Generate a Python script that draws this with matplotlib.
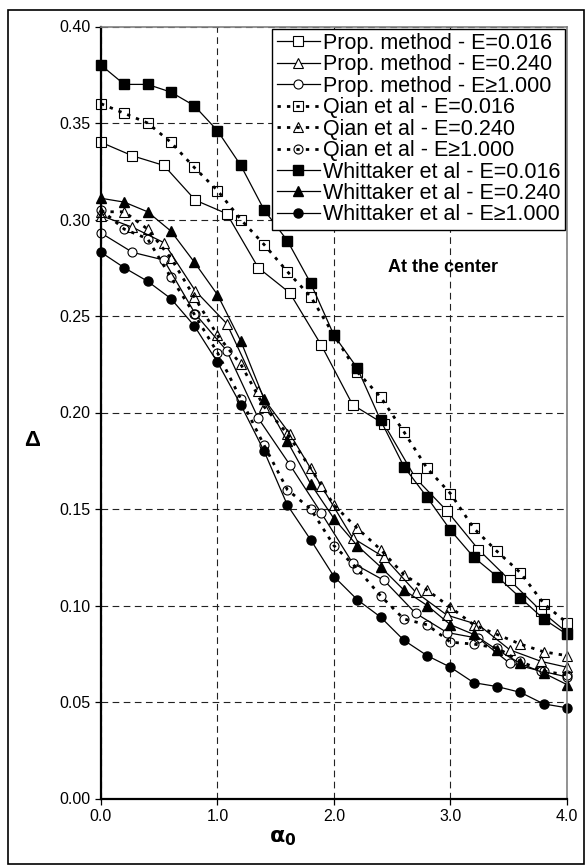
import matplotlib
matplotlib.use("Agg")
from matplotlib import pyplot as plt
from matplotlib.patches import Rectangle

plt.rcParams['font.family'] = ['Liberation Sans', 'DejaVu Sans']
plt.rcParams['mathtext.fontset'] = 'dejavusans'

# alpha_0 positions
x_prop = [0.0, 0.27, 0.54, 0.81, 1.08, 1.35, 1.62, 1.89, 2.16, 2.43, 2.70, 2.97, 3.24, 3.51, 3.78, 4.0]
x_ref = [0.0, 0.2, 0.4, 0.6, 0.8, 1.0, 1.2, 1.4, 1.6, 1.8, 2.0,
         2.2, 2.4, 2.6, 2.8, 3.0, 3.2, 3.4, 3.6, 3.8, 4.0]

# Proposed method
prop_016 = [0.340, 0.333, 0.328, 0.310, 0.303, 0.275, 0.262, 0.235, 0.204, 0.194, 0.166, 0.149, 0.129, 0.113, 0.097, 0.086]
prop_240 = [0.302, 0.296, 0.288, 0.263, 0.246, 0.211, 0.189, 0.162, 0.135, 0.125, 0.107, 0.095, 0.090, 0.077, 0.071, 0.068]
prop_1000 = [0.293, 0.283, 0.279, 0.251, 0.232, 0.197, 0.173, 0.148, 0.122, 0.113, 0.096, 0.086, 0.083, 0.070, 0.066, 0.063]

# Qian et al
qian_016 = [0.360, 0.355, 0.350, 0.340, 0.327, 0.315, 0.300, 0.287, 0.273, 0.260, 0.240,
            0.221, 0.208, 0.190, 0.171, 0.158, 0.140, 0.128, 0.117, 0.101, 0.091]
qian_240 = [0.304, 0.304, 0.295, 0.280, 0.260, 0.240, 0.225, 0.203, 0.189, 0.171, 0.152,
            0.140, 0.129, 0.116, 0.108, 0.099, 0.090, 0.085, 0.080, 0.076, 0.074]
qian_1000 = [0.305, 0.295, 0.290, 0.270, 0.251, 0.231, 0.207, 0.183, 0.160, 0.150, 0.131,
             0.119, 0.105, 0.093, 0.090, 0.081, 0.080, 0.078, 0.071, 0.066, 0.064]

# Whittaker et al
whit_016 = [0.380, 0.370, 0.370, 0.366, 0.359, 0.346, 0.328, 0.305, 0.289, 0.267, 0.240,
            0.223, 0.196, 0.172, 0.156, 0.139, 0.125, 0.115, 0.104, 0.093, 0.085]
whit_240 = [0.311, 0.309, 0.304, 0.294, 0.278, 0.261, 0.237, 0.207, 0.185, 0.163, 0.145,
            0.131, 0.120, 0.108, 0.100, 0.090, 0.085, 0.077, 0.070, 0.065, 0.059]
whit_1000 = [0.283, 0.275, 0.268, 0.259, 0.245, 0.226, 0.204, 0.180, 0.152, 0.134, 0.115,
             0.103, 0.094, 0.082, 0.074, 0.068, 0.060, 0.058, 0.055, 0.049, 0.047]

y_ticks = [0.00, 0.05, 0.10, 0.15, 0.20, 0.25, 0.30, 0.35, 0.40]
x_ticks = [0.0, 1.0, 2.0, 3.0, 4.0]

fig = plt.figure(figsize=(5.85, 8.65), dpi=100)
ax = fig.add_axes([101/585, 1-798.5/865, 466/585, 772/865])

dots = (0, (1.2, 2.2))
common = dict(color='black', clip_on=False)

ax.plot(x_prop, prop_016, '-', marker='s', ms=6.5, mfc='white', mew=0.8, lw=0.9,
        label='Prop. method - E=0.016', **common)
ax.plot(x_prop, prop_240, '-', marker='^', ms=7, mfc='white', mew=0.8, lw=0.9,
        label='Prop. method - E=0.240', **common)
ax.plot(x_prop, prop_1000, '-', marker='o', ms=6.5, mfc='white', mew=0.8, lw=0.9,
        label='Prop. method - E\u22651.000', **common)

ax.plot(x_ref, qian_016, linestyle=dots, marker='s', ms=6.5, mfc='none', mew=0.8, lw=2.0,
        label='Qian et al - E=0.016', **common)
ax.plot(x_ref, qian_240, linestyle=dots, marker='^', ms=7, mfc='none', mew=0.8, lw=2.0,
        label='Qian et al - E=0.240', **common)
ax.plot(x_ref, qian_1000, linestyle=dots, marker='o', ms=6.5, mfc='none', mew=0.8, lw=2.0,
        label='Qian et al - E\u22651.000', **common)

ax.plot(x_ref, whit_016, '-', marker='s', ms=6.5, lw=0.9,
        label='Whittaker et al - E=0.016', **common)
ax.plot(x_ref, whit_240, '-', marker='^', ms=7, lw=0.9,
        label='Whittaker et al - E=0.240', **common)
ax.plot(x_ref, whit_1000, '-', marker='o', ms=6.5, lw=0.9,
        label='Whittaker et al - E\u22651.000', **common)

ax.set_xlim(0, 4)
ax.set_ylim(0, 0.40)
ax.set_xticks(x_ticks)
ax.set_xticklabels(['%.1f' % t for t in x_ticks])
ax.set_yticks(y_ticks)
ax.set_yticklabels(['%.2f' % t for t in y_ticks])
ax.tick_params(labelsize=11.5, direction='out', length=4, width=0.9)
ax.grid(True, color='#222222', linestyle=(0, (6, 4)), linewidth=0.8)
ax.set_axisbelow(True)

for s in ['left', 'bottom']:
    ax.spines[s].set_linewidth(1.6)
    ax.spines[s].set_color('black')
for s in ['top', 'right']:
    ax.spines[s].set_linewidth(1.2)
    ax.spines[s].set_color('#808080')

ax.set_ylabel('\u0394', fontsize=16, fontweight='bold', rotation=0, va='center', ha='center')
ax.yaxis.set_label_coords(-0.148, 0.464)
ax.set_xlabel(r'$\mathbf{\alpha_0}$', fontsize=16, va='center')
ax.xaxis.set_label_coords(0.39, -0.051)

ax.text(2.46, 0.275, 'At the center', fontsize=13, fontweight='bold', va='center', ha='left')

leg = ax.legend(loc='upper right', bbox_to_anchor=(1.0, 1.0), borderaxespad=0.1,
                fontsize=15.5, labelspacing=0.02, handlelength=2.0, handletextpad=0.15,
                borderpad=0.2, fancybox=False, framealpha=1, edgecolor='black')
leg.get_frame().set_linewidth(1.0)

fig.patches.append(Rectangle((8/585, 0.001), 576/585, 1-10/865-0.001, transform=fig.transFigure,
                             fill=False, edgecolor='black', linewidth=1.2))

fig.savefig('out.png', dpi=100)
